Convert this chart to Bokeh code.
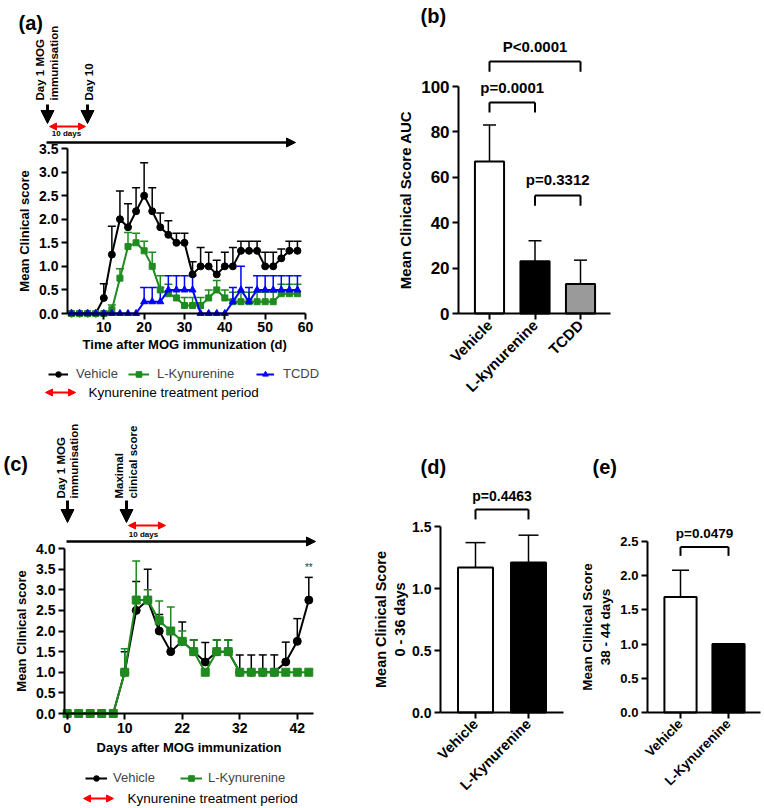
import math
from bokeh.plotting import figure
from bokeh.models import (Whisker, TeeHead, Arrow, NormalHead, Label, Legend, LegendItem,
                          ColumnDataSource, FixedTicker, PrintfTickFormatter, LinearAxis, Range1d)
from bokeh.embed import file_html
from bokeh.resources import INLINE

FONT = "Liberation Sans"
GREEN = "#1f8a1f"
BLUE = "#0000ff"
RED = "#ff0000"
W, H = 764, 808

# ---------------- data: panel (a) ----------------
a_days = list(range(2, 60, 2))
a_vehicle = [0, 0, 0, 0, 0.33, 1.25, 2.0, 1.83, 2.17, 2.5, 2.17, 1.83, 1.67, 1.5, 1.5,
             0.83, 1.0, 1.0, 0.83, 1.0, 1.0, 1.33, 1.33, 1.33, 1.0, 1.0, 1.17, 1.33, 1.33]
a_vehicle_sem = [0, 0, 0, 0, 0.3, 0.6, 0.6, 0.5, 0.5, 0.7, 0.5, 0.3, 0.3, 0.2, 0.2,
                 0.27, 0.4, 0.3, 0.3, 0.3, 0.4, 0.2, 0.2, 0.2, 0.3, 0.3, 0.2, 0.2, 0.2]
a_kyn = [0, 0, 0, 0, 0, 0.08, 0.75, 1.42, 1.5, 1.33, 1.0, 0.5, 0.42, 0.33, 0.17,
         0.17, 0.17, 0.33, 0.5, 0.33, 0.25, 0.25, 0.25, 0.25, 0.25, 0.25, 0.42, 0.42, 0.42]
a_kyn_sem = [0, 0, 0, 0, 0, 0.1, 0.2, 0.3, 0.2, 0.2, 0.3, 0.3, 0.2, 0.17, 0.17,
             0.17, 0.17, 0.17, 0.2, 0.17, 0.2, 0.2, 0.2, 0.2, 0.2, 0.2, 0.2, 0.2, 0.2]
a_tcdd = [0, 0, 0, 0, 0, 0, 0, 0, 0, 0.25, 0.25, 0.25, 0.5, 0.5, 0.5,
          0.5, 0, 0, 0, 0, 0.25, 0.5, 0.25, 0.5, 0.5, 0.5, 0.5, 0.5, 0.5]
a_tcdd_sem = [0, 0, 0, 0, 0, 0, 0, 0, 0, 0.3, 0.3, 0.3, 0.3, 0.3, 0.3,
              0.3, 0, 0, 0, 0, 0.3, 0.5, 0.3, 0.3, 0.3, 0.3, 0.3, 0.3, 0.3]
a_series = ["Vehicle", "L-Kynurenine", "TCDD"]
a_xticks = [10, 20, 30, 40, 50, 60]
a_timeline = ["Day 1 MOG", "immunisation", "Day 10", "10 days"]

# ---------------- data: panel (b) ----------------
b_groups = ["Vehicle", "L-kynurenine", "TCDD"]
b_auc = [67, 23, 13]
b_auc_sd = [16, 9, 10.5]
b_tests = [("P<0.0001", 0, 2), ("p=0.0001", 0, 1), ("p=0.3312", 1, 2)]

# ---------------- data: panel (c) ----------------
c_days = [0, 2, 4, 6, 8, 10, 12, 14, 17, 19, 22, 24, 26, 28, 30, 32, 34, 36, 38, 40, 42, 44]
c_tick_days = [0, 10, 22, 32, 42]
c_vehicle = [0, 0, 0, 0, 0, 1.0, 2.5, 2.75, 2.0, 1.5, 1.75, 1.5, 1.25, 1.5, 1.5,
             1.0, 1.0, 1.0, 1.0, 1.25, 1.75, 2.75]
c_vehicle_sem = [0, 0, 0, 0, 0, 0.5, 0.7, 0.75, 0.4, 0.5, 0.47, 0.28, 0.47, 0.28, 0.28,
                 0.42, 0.42, 0.42, 0.42, 0.48, 0.55, 0.55]
c_kyn = [0, 0, 0, 0, 0, 1.0, 2.75, 2.75, 2.25, 2.0, 1.75, 1.5, 1.0, 1.5, 1.5,
         1.0, 1.0, 1.0, 1.0, 1.0, 1.0, 1.0]
c_kyn_sem = [0, 0, 0, 0, 0, 0.57, 0.95, 0.25, 0.48, 0.58, 0.25, 0.28, 0, 0.28, 0.28,
             0, 0, 0, 0, 0, 0, 0]
c_series = ["Vehicle", "L-Kynurenine"]
c_sig = "**"
c_timeline = ["Day 1 MOG", "immunisation", "Maximal", "clinical score", "10 days"]

# ---------------- data: panels (d) and (e) ----------------
de_groups = ["Vehicle", "L-Kynurenine"]
d_score = [1.17, 1.21]
d_score_sd = [0.2, 0.22]
d_test = "p=0.4463"
e_score = [1.69, 1.0]
e_score_sd = [0.39, 0.0]
e_test = "p=0.0479"

legend_period = "Kynurenine treatment period"

# ---------------- one page-sized figure; every panel has its own ranges ----------------
p = figure(width=W, height=H, x_range=Range1d(0, W), y_range=Range1d(H, 0),
           output_backend="svg", toolbar_location=None,
           x_axis_location=None, y_axis_location=None,
           min_border_left=0, min_border_right=0, min_border_top=0, min_border_bottom=0)
p.grid.visible = False
p.outline_line_color = None

xr, yr = {}, {}


def xmap(name, v0, px0, v1, px1):
    k = (v1 - v0) / (px1 - px0)
    xr[name] = Range1d(v0 - px0 * k, v0 + (W - px0) * k)


def ymap(name, v0, py0, v1, py1):
    k = (v1 - v0) / (py0 - py1)
    yr[name] = Range1d(v0 + (py0 - H) * k, v0 + py0 * k)


# panel frames (pixel placement of each panel's scales)
xmap("a", 1, 67, 60, 305)
ymap("a", 0, 313, 3.5, 148)
xmap("b", 0, 489, 2, 580)
ymap("b", 0, 313, 100, 86)
xmap("c", 0, 66.7, 21, 308.3)
ymap("c", 0, 713, 4, 548)
xmap("d", 0, 475, 1, 528)
ymap("d", 0, 712, 1.5, 526)
xmap("e", 0, 680, 1, 728)
ymap("e", 0, 712, 2.5, 541)
p.extra_x_ranges = xr
p.extra_y_ranges = yr


def style_axis(ax, tick_size, label_size):
    ax.axis_line_width = 2
    ax.axis_line_color = "black"
    ax.major_tick_line_width = 2
    ax.major_tick_line_color = "black"
    ax.major_tick_out = 6
    ax.major_tick_in = 0
    ax.minor_tick_line_color = None
    ax.major_label_text_font = FONT
    ax.major_label_text_font_style = "bold"
    ax.major_label_text_font_size = tick_size
    ax.major_label_text_color = "black"
    ax.major_label_standoff = 3
    ax.axis_label_text_font = FONT
    ax.axis_label_text_font_style = "bold"
    ax.axis_label_text_font_size = label_size
    ax.axis_label_text_color = "black"
    ax.axis_label_standoff = 4


def add_axes(n, xb, yb, xticks, yticks, xlabel, ylabel, sizes, xlabels=None, yfmt=None,
             rotate=False):
    xa = LinearAxis(x_range_name=n, y_range_name=n, fixed_location=yb[0], bounds=xb,
                    ticker=FixedTicker(ticks=xticks), axis_label=xlabel)
    ya = LinearAxis(x_range_name=n, y_range_name=n, fixed_location=xb[0], bounds=yb,
                    ticker=FixedTicker(ticks=yticks), axis_label=ylabel)
    style_axis(xa, sizes[0], sizes[1])
    style_axis(ya, sizes[2], sizes[3])
    if xlabels:
        xa.major_label_overrides = xlabels
    if yfmt:
        ya.formatter = PrintfTickFormatter(format=yfmt)
    if rotate:
        xa.major_label_orientation = math.pi / 4
    p.add_layout(xa, "below")
    p.add_layout(ya, "left")
    return xa, ya


def label(x, y, text, size, bold=True, angle=0.0, align="left", baseline="middle",
          rn="default", color="black"):
    p.add_layout(Label(x=x, y=y, text=text, angle=angle, x_range_name=rn, y_range_name=rn,
                       text_font=FONT, text_font_size=size,
                       text_font_style="bold" if bold else "normal",
                       text_align=align, text_baseline=baseline, text_color=color))


def arrow(x0, y0, x1, y1, color, lw, head, both=False):
    def hd():
        return NormalHead(size=head, fill_color=color, line_color=color, line_width=1)
    p.add_layout(Arrow(x_start=x0, y_start=y0, x_end=x1, y_end=y1,
                       start=hd() if both else None, end=hd(),
                       line_color=color, line_width=lw))


def whisker(n, xs, ys, errs, color, cap, lw=1.5):
    sel = [(x, y, y + e) for x, y, e in zip(xs, ys, errs) if e > 0]
    if not sel:
        return
    src = ColumnDataSource(dict(x=[s[0] for s in sel], lo=[s[1] for s in sel],
                                hi=[s[2] for s in sel]))
    p.add_layout(Whisker(base="x", lower="lo", upper="hi", source=src, dimension="height",
                         x_range_name=n, y_range_name=n, line_color=color, line_width=lw,
                         upper_head=TeeHead(size=cap, line_color=color, line_width=lw),
                         lower_head=None))


def bracket(n, x0, x1, y, leg, text, text_y, size):
    for xs, ys, xe, ye in [(x0, y - leg, x0, y), (x0, y, x1, y), (x1, y, x1, y - leg)]:
        p.add_layout(Arrow(x_start=xs, y_start=ys, x_end=xe, y_end=ye, start=None, end=None,
                           x_range_name=n, y_range_name=n, line_color="black", line_width=2))
    label((x0 + x1) / 2, text_y, text, size, align="center", rn=n)


def legend_item(name, renderers, left, center_y, gw, standoff):
    # one legend per entry so that each entry sits where the reference puts it
    p.add_layout(Legend(items=[LegendItem(label=name, renderers=renderers)],
                        orientation="horizontal", location=(left, H - (center_y + 7)),
                        glyph_width=gw, glyph_height=14, label_height=14,
                        label_standoff=standoff, padding=0, margin=0,
                        border_line_color=None, background_fill_alpha=0,
                        label_text_font=FONT, label_text_font_size="13px"), "center")


# ---------------- panel (a) ----------------
kw = dict(x_range_name="a", y_range_name="a")
rv_l = p.line(a_days, a_vehicle, line_color="black", line_width=2, **kw)
rv_m = p.scatter(a_days, a_vehicle, marker="circle", size=7, color="black", **kw)
rk_l = p.line(a_days, a_kyn, line_color=GREEN, line_width=2, **kw)
rk_m = p.scatter(a_days, a_kyn, marker="square", size=6, color=GREEN, **kw)
rt_l = p.line(a_days, a_tcdd, line_color=BLUE, line_width=2, **kw)
rt_m = p.scatter(a_days, a_tcdd, marker="triangle", size=7, color=BLUE, **kw)
whisker("a", a_days, a_vehicle, a_vehicle_sem, "black", 8)
whisker("a", a_days, a_kyn, a_kyn_sem, GREEN, 8)
whisker("a", a_days, a_tcdd, a_tcdd_sem, BLUE, 8)
xa, ya = add_axes("a", (1, 60), (0, 3.5), a_xticks, [i * 0.5 for i in range(8)],
                  "Time after  MOG immunization (d)", "Mean Clinical score",
                  ("14px", "13px", "14px", "13px"), yfmt="%.1f")
xa.major_label_standoff = 2
xa.axis_label_standoff = 2
legend_item(a_series[0], [rv_l, rv_m], 48, 374, 20, 8)
legend_item(a_series[1], [rk_l, rk_m], 128, 374, 21, 8)
legend_item(a_series[2], [rt_l, rt_m], 256, 374, 18, 9)
arrow(45, 392, 75, 392, RED, 2, 7, both=True)
label(88, 392, legend_period, "13.5px", bold=False)
# timeline
arrow(46, 142, 295, 142, "black", 2.5, 9)
arrow(47, 104, 47, 123, "black", 3, 13)
arrow(87, 104, 87, 123, "black", 3, 13)
arrow(49, 126, 85, 126, RED, 2, 7, both=True)
label(66, 133, a_timeline[3], "8px", align="center")
label(39, 100, a_timeline[0], "11.5px", angle=math.pi / 2)
label(53, 100, a_timeline[1], "11.5px", angle=math.pi / 2)
label(88, 100, a_timeline[2], "11.5px", angle=math.pi / 2)
label(18, 22, "(a)", "20px")

# ---------------- panel (b) ----------------
b_x = list(range(len(b_groups)))
p.vbar(x=b_x, top=b_auc, width=0.64, fill_color=["white", "black", "#9a9a9a"],
       line_color="black", line_width=2, x_range_name="b", y_range_name="b")
whisker("b", b_x, b_auc, b_auc_sd, "black", 13)
add_axes("b", (-0.68, 2.66), (0, 100), b_x, [0, 20, 40, 60, 80, 100],
         None, "Mean Clinical Score AUC", ("15px", "15px", "17px", "15px"),
         xlabels={i: g for i, g in enumerate(b_groups)}, rotate=True)
b_geo = [(111, 4.5, 117.5), (93, 4.5, 99.5), (52, 4.5, 59)]
for (txt, g0, g1), (yb, lg, ty) in zip(b_tests, b_geo):
    bracket("b", g0, g1, yb, lg, txt, ty, "15px")
label(420, 15, "(b)", "20px")

# ---------------- panel (c) ----------------
c_x = list(range(len(c_days)))
kw = dict(x_range_name="c", y_range_name="c")
cv_l = p.line(c_x, c_vehicle, line_color="black", line_width=2, **kw)
cv_m = p.scatter(c_x, c_vehicle, marker="circle", size=8, color="black", **kw)
ck_l = p.line(c_x, c_kyn, line_color=GREEN, line_width=2, **kw)
ck_m = p.scatter(c_x, c_kyn, marker="square", size=8, color=GREEN, **kw)
whisker("c", c_x, c_vehicle, c_vehicle_sem, "black", 8)
whisker("c", c_x, c_kyn, c_kyn_sem, GREEN, 8)
add_axes("c", (-0.23, 21.42), (0, 4), [c_days.index(d) for d in c_tick_days],
         [i * 0.5 for i in range(9)], "Days after MOG immunization", "Mean Clinical score",
         ("14px", "13px", "14px", "13px"),
         xlabels={c_days.index(d): str(d) for d in c_tick_days}, yfmt="%.1f")
last = len(c_x) - 1
label(c_x[last], c_vehicle[last] + c_vehicle_sem[last] + 0.1, c_sig, "10px",
      bold=False, align="center", baseline="bottom", rn="c", color="#333333")
legend_item(c_series[0], [cv_l, cv_m], 85, 778, 22, 6)
legend_item(c_series[1], [ck_l, ck_m], 180, 778, 22, 6)
arrow(83, 798, 113, 798, RED, 2, 7, both=True)
label(127, 798, legend_period, "13.5px", bold=False)
# timeline
arrow(66, 541, 315, 541, "black", 2.5, 9)
arrow(67, 500, 67, 522, "black", 3, 13)
arrow(126, 500, 126, 522, "black", 3, 13)
arrow(128, 525, 165, 525, RED, 2, 7, both=True)
label(143, 534, c_timeline[4], "8px", align="center")
label(60, 498, c_timeline[0], "11.5px", angle=math.pi / 2)
label(73, 498, c_timeline[1], "11.5px", angle=math.pi / 2)
label(118, 498, c_timeline[2], "11.5px", angle=math.pi / 2)
label(132, 498, c_timeline[3], "11.5px", angle=math.pi / 2)
label(3, 463, "(c)", "20px")

# ---------------- panel (d) ----------------
de_x = list(range(len(de_groups)))
p.vbar(x=de_x, top=d_score, width=0.66, fill_color=["white", "black"],
       line_color="black", line_width=2, x_range_name="d", y_range_name="d")
whisker("d", de_x, d_score, d_score_sd, "black", 20)
xd, yd = add_axes("d", (-0.66, 1.66), (0, 1.5), de_x, [0, 0.5, 1.0, 1.5], None,
                  "Mean Clinical Score\n0 - 36 days", ("14.5px", "14.5px", "14px", "14.5px"),
                  xlabels={i: g for i, g in enumerate(de_groups)}, yfmt="%.1f", rotate=True)
yd.axis_label_standoff = 1
bracket("d", 0, 1, 1.637, 0.08, d_test, 1.745, "14px")
label(420, 466, "(d)", "20px")

# ---------------- panel (e) ----------------
p.vbar(x=de_x, top=e_score, width=0.67, fill_color=["white", "black"],
       line_color="black", line_width=2, x_range_name="e", y_range_name="e")
whisker("e", de_x, e_score, e_score_sd, "black", 17)
add_axes("e", (-0.69, 1.67), (0, 2.5), de_x, [0, 0.5, 1.0, 1.5, 2.0, 2.5], None,
         "Mean Clinical Score\n38 - 44 days", ("13.5px", "13.5px", "13px", "13.5px"),
         xlabels={i: g for i, g in enumerate(de_groups)}, yfmt="%.1f", rotate=True)
bracket("e", 0, 1, 2.42, 0.13, e_test, 2.61, "13.5px")
label(592, 466, "(e)", "20px")

open("out.html", "w").write(file_html(p, INLINE))
